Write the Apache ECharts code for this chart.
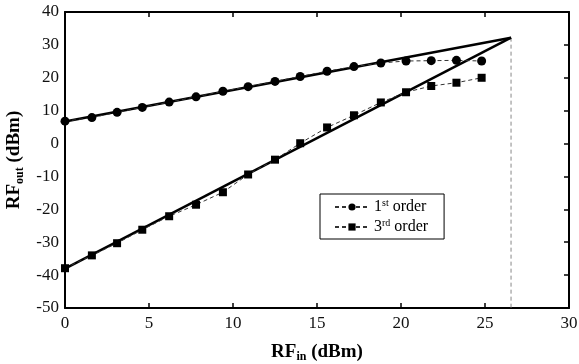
<!DOCTYPE html>
<html>
<head>
<meta charset="utf-8">
<script src="https://cdn.jsdelivr.net/npm/echarts@6/dist/echarts.min.js"></script>
<style>
  html, body { margin: 0; padding: 0; background: #fff; }
  #chart { width: 579px; height: 364px; }
</style>
</head>
<body>
<div id="chart"></div>
<script>
// input power points (dBm)
const rfIn = [0, 1.6, 3.1, 4.6, 6.2, 7.8, 9.4, 10.9, 12.5, 14.0, 15.6, 17.2, 18.8, 20.3, 21.8, 23.3, 24.8]
const firstOrder = [6.8, 7.9, 9.5, 11.0, 12.6, 14.2, 15.9, 17.3, 18.9, 20.4, 22.0, 23.4, 24.5, 25.1, 25.2, 25.3, 25.1]
const thirdOrder = [-37.9, -34.0, -30.3, -26.2, -22.1, -18.6, -14.8, -9.4, -4.9, 0.1, 4.9, 8.6, 12.5, 15.6, 17.5, 18.5, 20.0]

// fitted lines and intercept point
const fitFirst = [[0, 6.7], [26.55, 32.2]]
const fitThird = [[0, -38.0], [26.55, 32.2]]
const interceptDrop = [[26.55, 32.2], [26.55, -50]]

const serif = '"Liberation Serif", "DejaVu Serif", serif'
const ink = '#000'

const chart = echarts.init(document.getElementById('chart'))

const frameLine = { show: true, onZero: false, lineStyle: { color: ink, width: 2 } }
const tickIn = { show: true, inside: true, length: 5, lineStyle: { color: ink, width: 1.5 } }
const labelStyle = { color: '#111', fontFamily: serif, fontSize: 17 }

const pair = (xs, ys) => xs.map((x, i) => [x, ys[i]])

const titleRich = {
  b: { fontFamily: serif, fontWeight: 'bold', fontSize: 19, color: ink, lineHeight: 22 },
  s: { fontFamily: serif, fontWeight: 'bold', fontSize: 12, color: ink, verticalAlign: 'bottom', lineHeight: 22 }
}

const option = {
  animation: false,
  backgroundColor: '#fff',
  grid: { left: 65, right: 10, top: 12, bottom: 56, outerBoundsMode: 'none', containLabel: false },
  legend: {
    orient: 'vertical',
    left: 320,
    top: 194,
    data: ['1st order', '3rd order'],
    backgroundColor: '#fff',
    borderColor: ink,
    borderWidth: 1,
    borderRadius: 0,
    padding: [4, 16, 4, 14],
    itemGap: 3,
    itemWidth: 34,
    itemHeight: 9,
    textStyle: {
      color: ink,
      fontFamily: serif,
      rich: {
        n: { fontFamily: serif, fontSize: 16, color: ink, lineHeight: 18 },
        s: { fontFamily: serif, fontSize: 10, color: ink, verticalAlign: 'top', lineHeight: 18 }
      }
    },
    formatter: name => {
      const num = name.charAt(0)
      const suf = name.slice(1, 3)
      return '{n|' + num + '}{s|' + suf + '}{n| order}'
    }
  },
  xAxis: [
    {
      type: 'value',
      min: 0, max: 30, interval: 5,
      name: '{b|RF}{s|in}{b| (dBm)}',
      nameLocation: 'middle',
      nameGap: 33,
      nameTextStyle: { rich: titleRich },
      axisLine: frameLine,
      axisTick: tickIn,
      axisLabel: Object.assign({ margin: 7 }, labelStyle),
      splitLine: { show: false }
    },
    {
      type: 'value',
      position: 'top',
      min: 0, max: 30, interval: 5,
      axisLine: frameLine,
      axisTick: tickIn,
      axisLabel: { show: false },
      splitLine: { show: false }
    }
  ],
  yAxis: [
    {
      type: 'value',
      min: -50, max: 40, interval: 10,
      name: '{b|RF}{s|out}{b| (dBm)}',
      nameLocation: 'middle',
      nameRotate: 90,
      nameGap: 38,
      nameTextStyle: { rich: titleRich },
      axisLine: frameLine,
      axisTick: { show: false },
      axisLabel: Object.assign({ margin: 6 }, labelStyle),
      splitLine: { show: false }
    },
    {
      type: 'value',
      position: 'right',
      min: -50, max: 40, interval: 10,
      axisLine: frameLine,
      axisTick: tickIn,
      axisLabel: { show: false },
      splitLine: { show: false }
    }
  ],
  series: [
    {
      name: 'fit 1st',
      type: 'line',
      data: fitFirst,
      symbol: 'none',
      lineStyle: { color: ink, width: 2.5 },
      z: 3
    },
    {
      name: 'fit 3rd',
      type: 'line',
      data: fitThird,
      symbol: 'none',
      lineStyle: { color: ink, width: 2.5 },
      z: 3
    },
    {
      name: 'drop',
      type: 'line',
      data: interceptDrop,
      symbol: 'none',
      lineStyle: { color: '#888', width: 1, type: [4, 3] },
      z: 2
    },
    {
      name: '1st order',
      type: 'line',
      data: pair(rfIn, firstOrder),
      symbol: 'circle',
      symbolSize: 9,
      itemStyle: { color: ink },
      lineStyle: { color: '#333', width: 1, type: [4, 3] },
      z: 4
    },
    {
      name: '3rd order',
      type: 'line',
      data: pair(rfIn, thirdOrder),
      symbol: 'rect',
      symbolSize: 8,
      itemStyle: { color: ink },
      lineStyle: { color: '#333', width: 1, type: [4, 3] },
      z: 4
    }
  ]
}

chart.setOption(option)
</script>
</body>
</html>
